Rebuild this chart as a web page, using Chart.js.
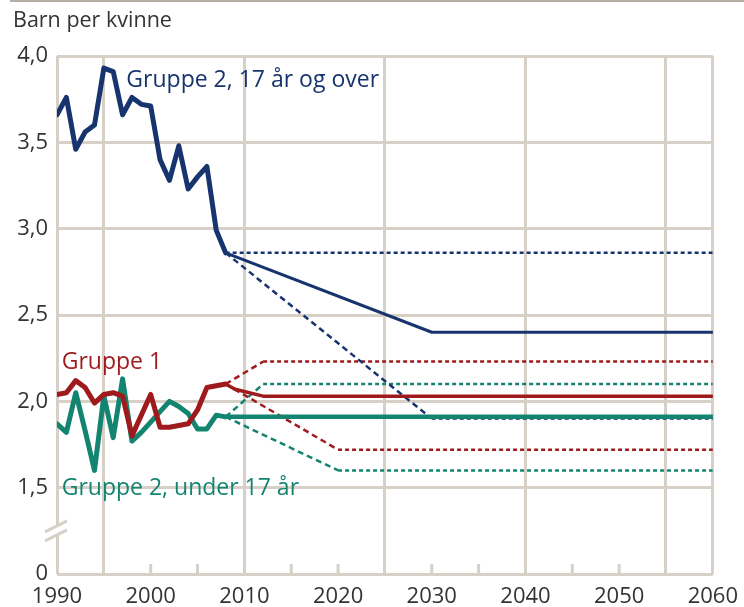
<!DOCTYPE html>
<html><head><meta charset="utf-8">
<script src="https://cdn.jsdelivr.net/npm/chart.js@4"></script>
<style>html,body{margin:0;padding:0;background:#fff}#wrap{width:744px;height:607px;position:relative}</style>
</head><body><div id="wrap"><canvas id="c" width="744" height="607"></canvas></div>
<script>
// ---- data ----
const histYears = [1990,1991,1992,1993,1994,1995,1996,1997,1998,1999,2000,2001,2002,2003,2004,2005,2006,2007,2008];
const blueHist  = [3.66,3.76,3.46,3.56,3.60,3.93,3.91,3.66,3.76,3.72,3.71,3.40,3.28,3.48,3.23,3.30,3.36,2.99,2.86];
const redHist   = [2.04,2.05,2.12,2.08,1.99,2.04,2.05,2.03,1.80,1.92,2.04,1.85,1.85,1.86,1.87,1.95,2.08,2.09,2.10];
const greenHist = [1.87,1.82,2.05,1.83,1.60,2.03,1.79,2.13,1.77,1.82,1.88,1.94,2.00,1.97,1.93,1.84,1.84,1.92,1.91];

const blueMidYears = [2008,2030,2060];      const blueMid = [2.86,2.40,2.40];
const blueHighYears = [2008,2060];          const blueHigh = [2.86,2.86];
const blueLowYears = [2008,2030,2060];      const blueLow = [2.86,1.90,1.90];
const redMidYears = [2008,2009,2012,2060];  const redMid = [2.10,2.07,2.03,2.03];
const redHighYears = [2008,2012,2060];      const redHigh = [2.10,2.23,2.23];
const redLowYears = [2008,2020,2060];       const redLow = [2.10,1.72,1.72];
const greenMidYears = [2008,2060];          const greenMid = [1.91,1.91];
const greenHighYears = [2008,2012,2060];    const greenHigh = [1.91,2.10,2.10];
const greenLowYears = [2008,2020,2060];     const greenLow = [1.91,1.60,1.60];

const xLabelYears = [1990,2000,2010,2020,2030,2040,2050,2060];
const xGridYears = [1990,1995,2010,2025,2040,2055,2060];
const xMinorTickYears = [2000,2005,2015,2020,2030,2035,2045,2050];

const titleText = 'Barn per kvinne';
const labelBlue = 'Gruppe 2, 17 år og over';
const labelRed = 'Gruppe 1';
const labelGreen = 'Gruppe 2, under 17 år';

// ---- styles ----
const GRID = '#d6d0c6';
const BLUE = '#17346f', RED = '#9e1a1c', GREEN = '#13846f';
const TEXT = '#333333';
const FONT = "'Open Sans', 'DejaVu Sans', sans-serif";

function pts(xs, ys){ return xs.map((x,i)=>({x:x, y:ys[i]})); }
const dashSeg = { borderDash: c => (Math.abs(c.p0.parsed.y - c.p1.parsed.y) < 1e-9) ? [4,3] : [6,4] };

function solid(data, color, w){
  return {data, borderColor: color, borderWidth: w, pointRadius: 0, tension: 0,
    borderJoinStyle: 'round', borderCapStyle: 'round', fill: false};
}
function dotted(data, color){
  return {data, borderColor: color, borderWidth: 2.5, pointRadius: 0, tension: 0,
    borderCapStyle: 'butt', fill: false, segment: dashSeg};
}

const datasets = [
  solid(pts(histYears, blueHist), BLUE, 5),
  solid(pts(histYears, redHist), RED, 5),
  solid(pts(histYears, greenHist), GREEN, 5),
  solid(pts(greenMidYears, greenMid), GREEN, 4.5),
  solid(pts(redMidYears, redMid), RED, 3.5),
  solid(pts(blueMidYears, blueMid), BLUE, 3),
  dotted(pts(blueHighYears, blueHigh), BLUE),
  dotted(pts(blueLowYears, blueLow), BLUE),
  dotted(pts(redHighYears, redHigh), RED),
  dotted(pts(redLowYears, redLow), RED),
  dotted(pts(greenHighYears, greenHigh), GREEN),
  dotted(pts(greenLowYears, greenLow), GREEN)
];

const decor = {
  id: 'decor',
  afterDraw(chart){
    const ctx = chart.ctx, xs = chart.scales.x, ys = chart.scales.y, a = chart.chartArea;
    ctx.save();
    // top rule
    ctx.strokeStyle = '#b4aea4'; ctx.lineWidth = 2;
    ctx.beginPath(); ctx.moveTo(10, 1); ctx.lineTo(744, 1); ctx.stroke();
    // minor ticks on bottom axis
    ctx.strokeStyle = GRID; ctx.lineWidth = 3;
    const yb = ys.getPixelForValue(1);
    xMinorTickYears.forEach(v => {
      const px = xs.getPixelForValue(v);
      ctx.beginPath(); ctx.moveTo(px, yb); ctx.lineTo(px, yb - 10); ctx.stroke();
    });
    // axis break
    const cy = ys.getPixelForValue(1.25);
    const l = a.left;
    ctx.fillStyle = '#fff';
    ctx.beginPath();
    ctx.moveTo(l-12, cy+1); ctx.lineTo(l+10, cy-10); ctx.lineTo(l+10, cy-1); ctx.lineTo(l-12, cy+10);
    ctx.closePath(); ctx.fill();
    ctx.strokeStyle = GRID; ctx.lineWidth = 3;
    ctx.beginPath(); ctx.moveTo(l-12, cy+1); ctx.lineTo(l+10, cy-10); ctx.stroke();
    ctx.beginPath(); ctx.moveTo(l-12, cy+10); ctx.lineTo(l+10, cy-1); ctx.stroke();
    // title
    ctx.fillStyle = TEXT; ctx.textAlign = 'left'; ctx.textBaseline = 'alphabetic';
    ctx.font = '21.5px ' + FONT;
    ctx.fillText(titleText, 13, 27);
    // series labels
    ctx.font = '23px ' + FONT;
    ctx.fillStyle = BLUE;
    ctx.fillText(labelBlue, xs.getPixelForValue(1997.4), ys.getPixelForValue(3.82));
    ctx.fillStyle = RED;
    ctx.fillText(labelRed, xs.getPixelForValue(1990.5), ys.getPixelForValue(2.19));
    ctx.fillStyle = GREEN;
    ctx.fillText(labelGreen, xs.getPixelForValue(1990.5), ys.getPixelForValue(1.455));
    ctx.restore();
  }
};

new Chart(document.getElementById('c'), {
  type: 'line',
  data: { datasets },
  options: {
    responsive: false, animation: false, devicePixelRatio: 1,
    layout: { padding: { left: 0, right: 23, top: 56, bottom: 0 } },
    plugins: { legend: { display: false }, tooltip: { enabled: false } },
    scales: {
      x: {
        type: 'linear', min: 1990, max: 2060,
        afterFit: s => { s.height = 33; },
        border: { display: false },
        grid: { lineWidth: 3, drawTicks: false,
          color: c => (c.tick && xGridYears.includes(c.tick.value)) ? GRID : 'rgba(0,0,0,0)' },
        ticks: { stepSize: 5, autoSkip: false, maxRotation: 0, padding: 6, color: TEXT,
          font: { family: FONT, size: 22, lineHeight: 1.5 },
          callback: v => xLabelYears.includes(v) ? String(v) : '' }
      },
      y: {
        type: 'linear', min: 1, max: 4,
        afterFit: s => { s.width = 57; },
        border: { display: false },
        grid: { lineWidth: 3, drawTicks: false, color: GRID },
        ticks: { stepSize: 0.5, padding: 9, color: TEXT, font: { family: FONT, size: 22 },
          callback: v => v === 1 ? '0' : v.toFixed(1).replace('.', ',') }
      }
    }
  },
  plugins: [decor]
});
</script></body></html>
